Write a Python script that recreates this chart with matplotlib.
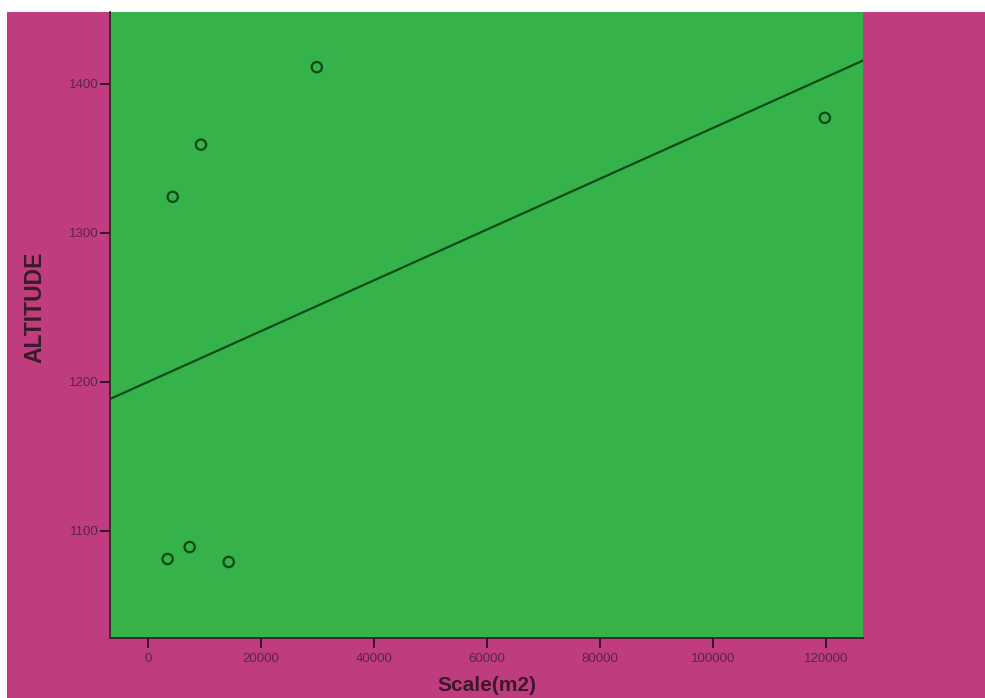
import numpy as np
import matplotlib
matplotlib.use("Agg")
import matplotlib.pyplot as plt

# Data
scale_m2 = [3500, 7400, 14300, 4400, 9400, 29900, 119800]
altitude = [1081, 1089, 1079, 1324, 1359, 1411, 1377]
x_ticks = [0, 20000, 40000, 60000, 80000, 100000, 120000]
y_ticks = [1100, 1200, 1300, 1400]

PINK = "#BF3D7F"
GREEN = "#35B34A"
DARK = "#0B4A17"
LABEL = "#3A1A2A"
TICKLAB = "#5A2548"

plt.rcParams['font.family'] = ['Liberation Sans', 'DejaVu Sans']

fig = plt.figure(figsize=(9.85, 6.98), dpi=100, facecolor="white")

# pink background panel
bg = fig.add_axes([7/985, 0, 1 - 7/985, (698 - 12)/698])
bg.set_facecolor(PINK)
bg.set_xticks([]); bg.set_yticks([])
for s in bg.spines.values():
    s.set_visible(False)
bg.set_zorder(0)

ax = fig.add_axes([110/985, 60/698, (863 - 110)/985, (638 - 12)/698])
ax.set_zorder(1)
ax.set_facecolor(GREEN)

ax.scatter(scale_m2, altitude, s=55, facecolors="none", edgecolors=DARK,
           linewidths=1.6, zorder=3)

xlim = (-6700, 126550)
ax.set_xlim(*xlim)
ax.set_ylim(1028, 1448)

slope, intercept = np.polyfit(scale_m2, altitude, 1)
xs = np.array(xlim)
ax.plot(xs, intercept + slope * xs, color=DARK, lw=1.6, zorder=2)

ax.set_xticks(x_ticks)
ax.set_yticks(y_ticks)
ax.set_xticklabels([str(v) for v in x_ticks])
ax.set_yticklabels([str(v) for v in y_ticks])
ax.tick_params(axis='both', colors="#2a1020", labelcolor=TICKLAB, labelsize=9.5,
               direction='out', length=7, width=1.3)
ax.tick_params(axis='y', pad=1)
ax.tick_params(axis='x', pad=4)
for s in ['top', 'right']:
    ax.spines[s].set_visible(False)
for s in ['left', 'bottom']:
    ax.spines[s].set_color("#3a2030")
    ax.spines[s].set_linewidth(1.3)

ax.set_ylabel("ALTITUDE", fontsize=16.5, fontweight='bold', color=LABEL)
ax.yaxis.set_label_coords(-64/753, (638 - 307)/626)
fig.text(487/985, 3/698, "Scale(m2)", fontsize=15, fontweight='bold',
         color=LABEL, ha='center', va='bottom', zorder=5)

fig.savefig("out.png", dpi=100, facecolor="white")
